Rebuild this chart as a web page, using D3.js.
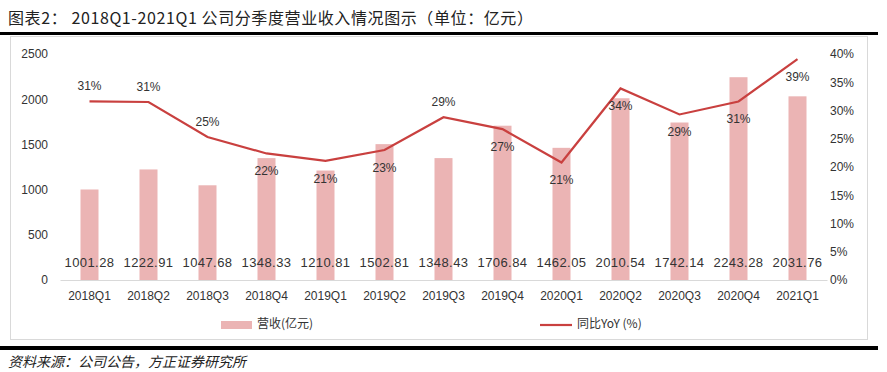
<!DOCTYPE html>
<html>
<head>
<meta charset="utf-8">
<script src="https://cdn.jsdelivr.net/npm/d3@7"></script>
<style>
    body { margin: 0; background: #fff; }
    text { font-family: "Liberation Sans", Arial, sans-serif; fill: #333; }
    .cjk { font-family: "Noto Sans CJK SC", sans-serif; }
</style>
</head>
<body>
<div id="viz_container"></div>
<script>
// data
const quarters = ["2018Q1", "2018Q2", "2018Q3", "2018Q4", "2019Q1", "2019Q2", "2019Q3",
    "2019Q4", "2020Q1", "2020Q2", "2020Q3", "2020Q4", "2021Q1"];
const revenue = [1001.28, 1222.91, 1047.68, 1348.33, 1210.81, 1502.81, 1348.43,
    1706.84, 1462.05, 2010.54, 1742.14, 2243.28, 2031.76];
const yoy = [31.6, 31.5, 25.3, 22.4, 21.1, 23.0, 28.8, 26.7, 20.8, 33.9, 29.3, 31.6, 39.1];
const yoyLabels = ["31%", "31%", "25%", "22%", "21%", "23%", "29%", "27%", "21%", "34%", "29%", "31%", "39%"];
const labelAbove = [true, true, true, false, false, false, true, false, false, false, false, false, false];
const leftTicks = [0, 500, 1000, 1500, 2000, 2500];
const rightTicks = [0, 5, 10, 15, 20, 25, 30, 35, 40];

const W = 887, H = 372;
const margin = { top: 54, right: 60, bottom: 92, left: 60 };
const width = W - margin.left - margin.right;
const height = H - margin.top - margin.bottom;

const root = d3.select("#viz_container")
    .append("svg")
    .attr("width", W)
    .attr("height", H);

// title
root.append("text")
    .attr("class", "cjk")
    .attr("x", 8)
    .attr("y", 24)
    .style("font-size", "16px")
    .style("letter-spacing", "0.6px")
    .style("fill", "#222")
    .text("图表2：  2018Q1-2021Q1 公司分季度营业收入情况图示（单位：亿元）");

// thick rules
root.append("rect").attr("x", 0).attr("y", 32).attr("width", 878).attr("height", 3).attr("fill", "#000");
root.append("rect").attr("x", 0).attr("y", 346).attr("width", 878).attr("height", 4).attr("fill", "#000");

// chart border
root.append("rect")
    .attr("x", 10.5).attr("y", 36.5)
    .attr("width", 857).attr("height", 303)
    .attr("fill", "none")
    .attr("stroke", "#d9d9d9");

// source
root.append("text")
    .attr("class", "cjk")
    .attr("x", 8)
    .attr("y", 367)
    .style("font-size", "14px")
    .style("font-style", "italic")
    .style("fill", "#222")
    .text("资料来源：公司公告，方正证券研究所");

const svg = root.append("g")
    .attr("transform", `translate(${margin.left}, ${margin.top})`);

// scales
const x = d3.scaleBand().domain(quarters).range([0, width]);
const yL = d3.scaleLinear().domain([0, 2500]).range([height, 0]);
const yR = d3.scaleLinear().domain([0, 40]).range([height, 0]);
const barW = 18;

// left axis
svg.append("g")
    .call(d3.axisLeft(yL).tickValues(leftTicks).tickSize(0).tickPadding(12).tickFormat(d3.format("d")))
    .call(g => g.select(".domain").remove())
    .call(g => g.selectAll("text").style("font-size", "12px").style("fill", "#333").style("font-family", "Liberation Sans, Arial, sans-serif"));

// right axis
svg.append("g")
    .attr("transform", `translate(${width}, 0)`)
    .call(d3.axisRight(yR).tickValues(rightTicks).tickSize(0).tickPadding(3).tickFormat(d => d + "%"))
    .call(g => g.select(".domain").remove())
    .call(g => g.selectAll("text").style("font-size", "12px").style("fill", "#333").style("font-family", "Liberation Sans, Arial, sans-serif"));

// bars
svg.selectAll(".bar")
    .data(revenue)
    .join("rect")
    .attr("class", "bar")
    .attr("x", (d, i) => x(quarters[i]) + x.bandwidth() / 2 - barW / 2)
    .attr("y", d => yL(d))
    .attr("width", barW)
    .attr("height", d => height - yL(d))
    .attr("fill", "#ebb4b4");

// x axis
svg.append("g")
    .attr("transform", `translate(0, ${height})`)
    .call(d3.axisBottom(x).tickSize(0).tickPadding(11))
    .call(g => g.select(".domain").attr("stroke", "#d9d9d9"))
    .call(g => g.selectAll("text").style("font-size", "12px").style("fill", "#333").style("font-family", "Liberation Sans Narrow, Liberation Sans, sans-serif"));

// bar value labels
svg.selectAll(".val")
    .data(revenue)
    .join("text")
    .attr("class", "val")
    .attr("x", (d, i) => x(quarters[i]) + x.bandwidth() / 2)
    .attr("y", height - 13)
    .attr("text-anchor", "middle")
    .style("font-size", "13px")
    .style("letter-spacing", "0.4px")
    .text(d => d3.format(".2f")(d));

// yoy line
const line = d3.line()
    .x((d, i) => x(quarters[i]) + x.bandwidth() / 2)
    .y(d => yR(d));
svg.append("path")
    .datum(yoy)
    .attr("fill", "none")
    .attr("stroke", "#c9403f")
    .attr("stroke-width", 2.2)
    .attr("d", line);

// yoy labels
svg.selectAll(".yoy")
    .data(yoy)
    .join("text")
    .attr("class", "yoy")
    .attr("x", (d, i) => x(quarters[i]) + x.bandwidth() / 2)
    .attr("y", (d, i) => yR(d) + (labelAbove[i] ? -11 : 22))
    .attr("text-anchor", "middle")
    .style("font-size", "12px")
    .text((d, i) => yoyLabels[i]);

// legend
root.append("rect")
    .attr("x", 221).attr("y", 321)
    .attr("width", 31).attr("height", 8)
    .attr("fill", "#ebb4b4");
root.append("text")
    .attr("class", "cjk")
    .attr("x", 257).attr("y", 325)
    .attr("dominant-baseline", "middle")
    .style("font-size", "12px")
    .text("营收(亿元)");
root.append("line")
    .attr("x1", 540).attr("x2", 572)
    .attr("y1", 325).attr("y2", 325)
    .attr("stroke", "#c9403f")
    .attr("stroke-width", 2.2);
root.append("text")
    .attr("class", "cjk")
    .attr("x", 577).attr("y", 325)
    .attr("dominant-baseline", "middle")
    .style("font-size", "12px")
    .text("同比YoY (%)");
</script>
</body>
</html>
